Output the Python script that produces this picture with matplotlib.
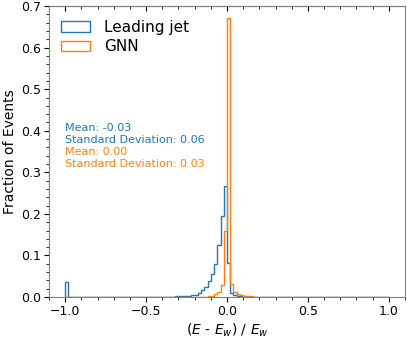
import numpy as np
import matplotlib
matplotlib.use("Agg")
import matplotlib.pyplot as plt

# bin edges: 0.02 wide from -1 to 1
edges = np.round(np.linspace(-1.0, 1.0, 101), 3)
centers = (edges[:-1] + edges[1:]) / 2

# fraction of events per bin (bins not listed are ~0)
lead_bins = {
    -0.99: 0.035,
    -0.49: 0.001, -0.47: 0.001, -0.45: 0.001, -0.43: 0.001, -0.41: 0.001,
    -0.39: 0.001, -0.37: 0.001, -0.35: 0.001, -0.33: 0.001, -0.31: 0.002,
    -0.29: 0.002, -0.27: 0.002, -0.25: 0.003, -0.23: 0.003, -0.21: 0.004,
    -0.19: 0.006, -0.17: 0.010, -0.15: 0.016, -0.13: 0.025, -0.11: 0.038,
    -0.09: 0.055, -0.07: 0.080, -0.05: 0.125, -0.03: 0.195, -0.01: 0.267,
    0.01: 0.082, 0.03: 0.010, 0.05: 0.004, 0.07: 0.003, 0.09: 0.002,
    0.11: 0.002, 0.13: 0.001, 0.15: 0.001, 0.17: 0.001, 0.19: 0.001,
    0.21: 0.001, 0.23: 0.001, 0.25: 0.001,
}
gnn_bins = {
    -0.15: 0.001, -0.13: 0.001, -0.11: 0.002, -0.09: 0.003, -0.07: 0.007,
    -0.05: 0.013, -0.03: 0.029, -0.01: 0.160, 0.01: 0.671, 0.03: 0.032,
    0.05: 0.013, 0.07: 0.008, 0.09: 0.005, 0.11: 0.003, 0.13: 0.002,
    0.15: 0.002, 0.17: 0.001, 0.19: 0.001, 0.21: 0.001, 0.23: 0.001,
    0.25: 0.001, 0.27: 0.001,
}
labels = ["Leading jet", "GNN"]
stats = [("-0.03", "0.06"), ("0.00", "0.03")]


def to_array(d):
    w = np.zeros(len(centers))
    for c, v in d.items():
        w[np.argmin(np.abs(centers - c))] = v
    return w


lead = to_array(lead_bins)
gnn = to_array(gnn_bins)

fig = plt.figure(figsize=(4.07, 3.39), dpi=100)
ax = fig.add_axes([0.1204, 0.1239, 0.8746, 0.8581])

ax.hist(centers, bins=edges, weights=lead, histtype="step", color="C0",
        lw=1.0, label=labels[0])
ax.hist(centers, bins=edges, weights=gnn, histtype="step", color="C1",
        lw=1.0, label=labels[1])

ax.set_xlim(-1.1, 1.1)
ax.set_ylim(0, 0.7)
ax.set_xticks([-1.0, -0.5, 0.0, 0.5, 1.0])
ax.set_yticks(np.arange(0, 0.71, 0.1))
ax.minorticks_on()
ax.tick_params(which="both", direction="out", labelsize=9, pad=2.5)
ax.tick_params(which="major", length=3.5)
ax.tick_params(which="minor", length=2)
for s in ax.spines.values():
    s.set_color("#808080")

top = ax.secondary_xaxis("top")
top.set_xticks([-1.0, -0.5, 0.0, 0.5, 1.0])
top.minorticks_on()
top.tick_params(which="both", direction="in", labeltop=False)
top.tick_params(which="major", length=3.5)
top.tick_params(which="minor", length=2)
top.spines["top"].set_color("#808080")

ax.set_xlabel("($E$ - $E_w$) / $E_w$", fontsize=10, labelpad=2)
ax.set_ylabel("Fraction of Events", fontsize=10, labelpad=3)

ax.legend(loc="upper left", frameon=False, fontsize=11,
          bbox_to_anchor=(-0.005, 1.0), handlelength=1.9,
          handletextpad=0.9, labelspacing=0.3)

y0 = 0.57
for i, (m, sd) in enumerate(stats):
    ax.text(0.045, y0 - i * 0.082, f"Mean: {m}", color=f"C{i}",
            fontsize=8, transform=ax.transAxes)
    ax.text(0.045, y0 - i * 0.082 - 0.041, f"Standard Deviation: {sd}",
            color=f"C{i}", fontsize=8, transform=ax.transAxes)

fig.savefig("out.png", dpi=100)
